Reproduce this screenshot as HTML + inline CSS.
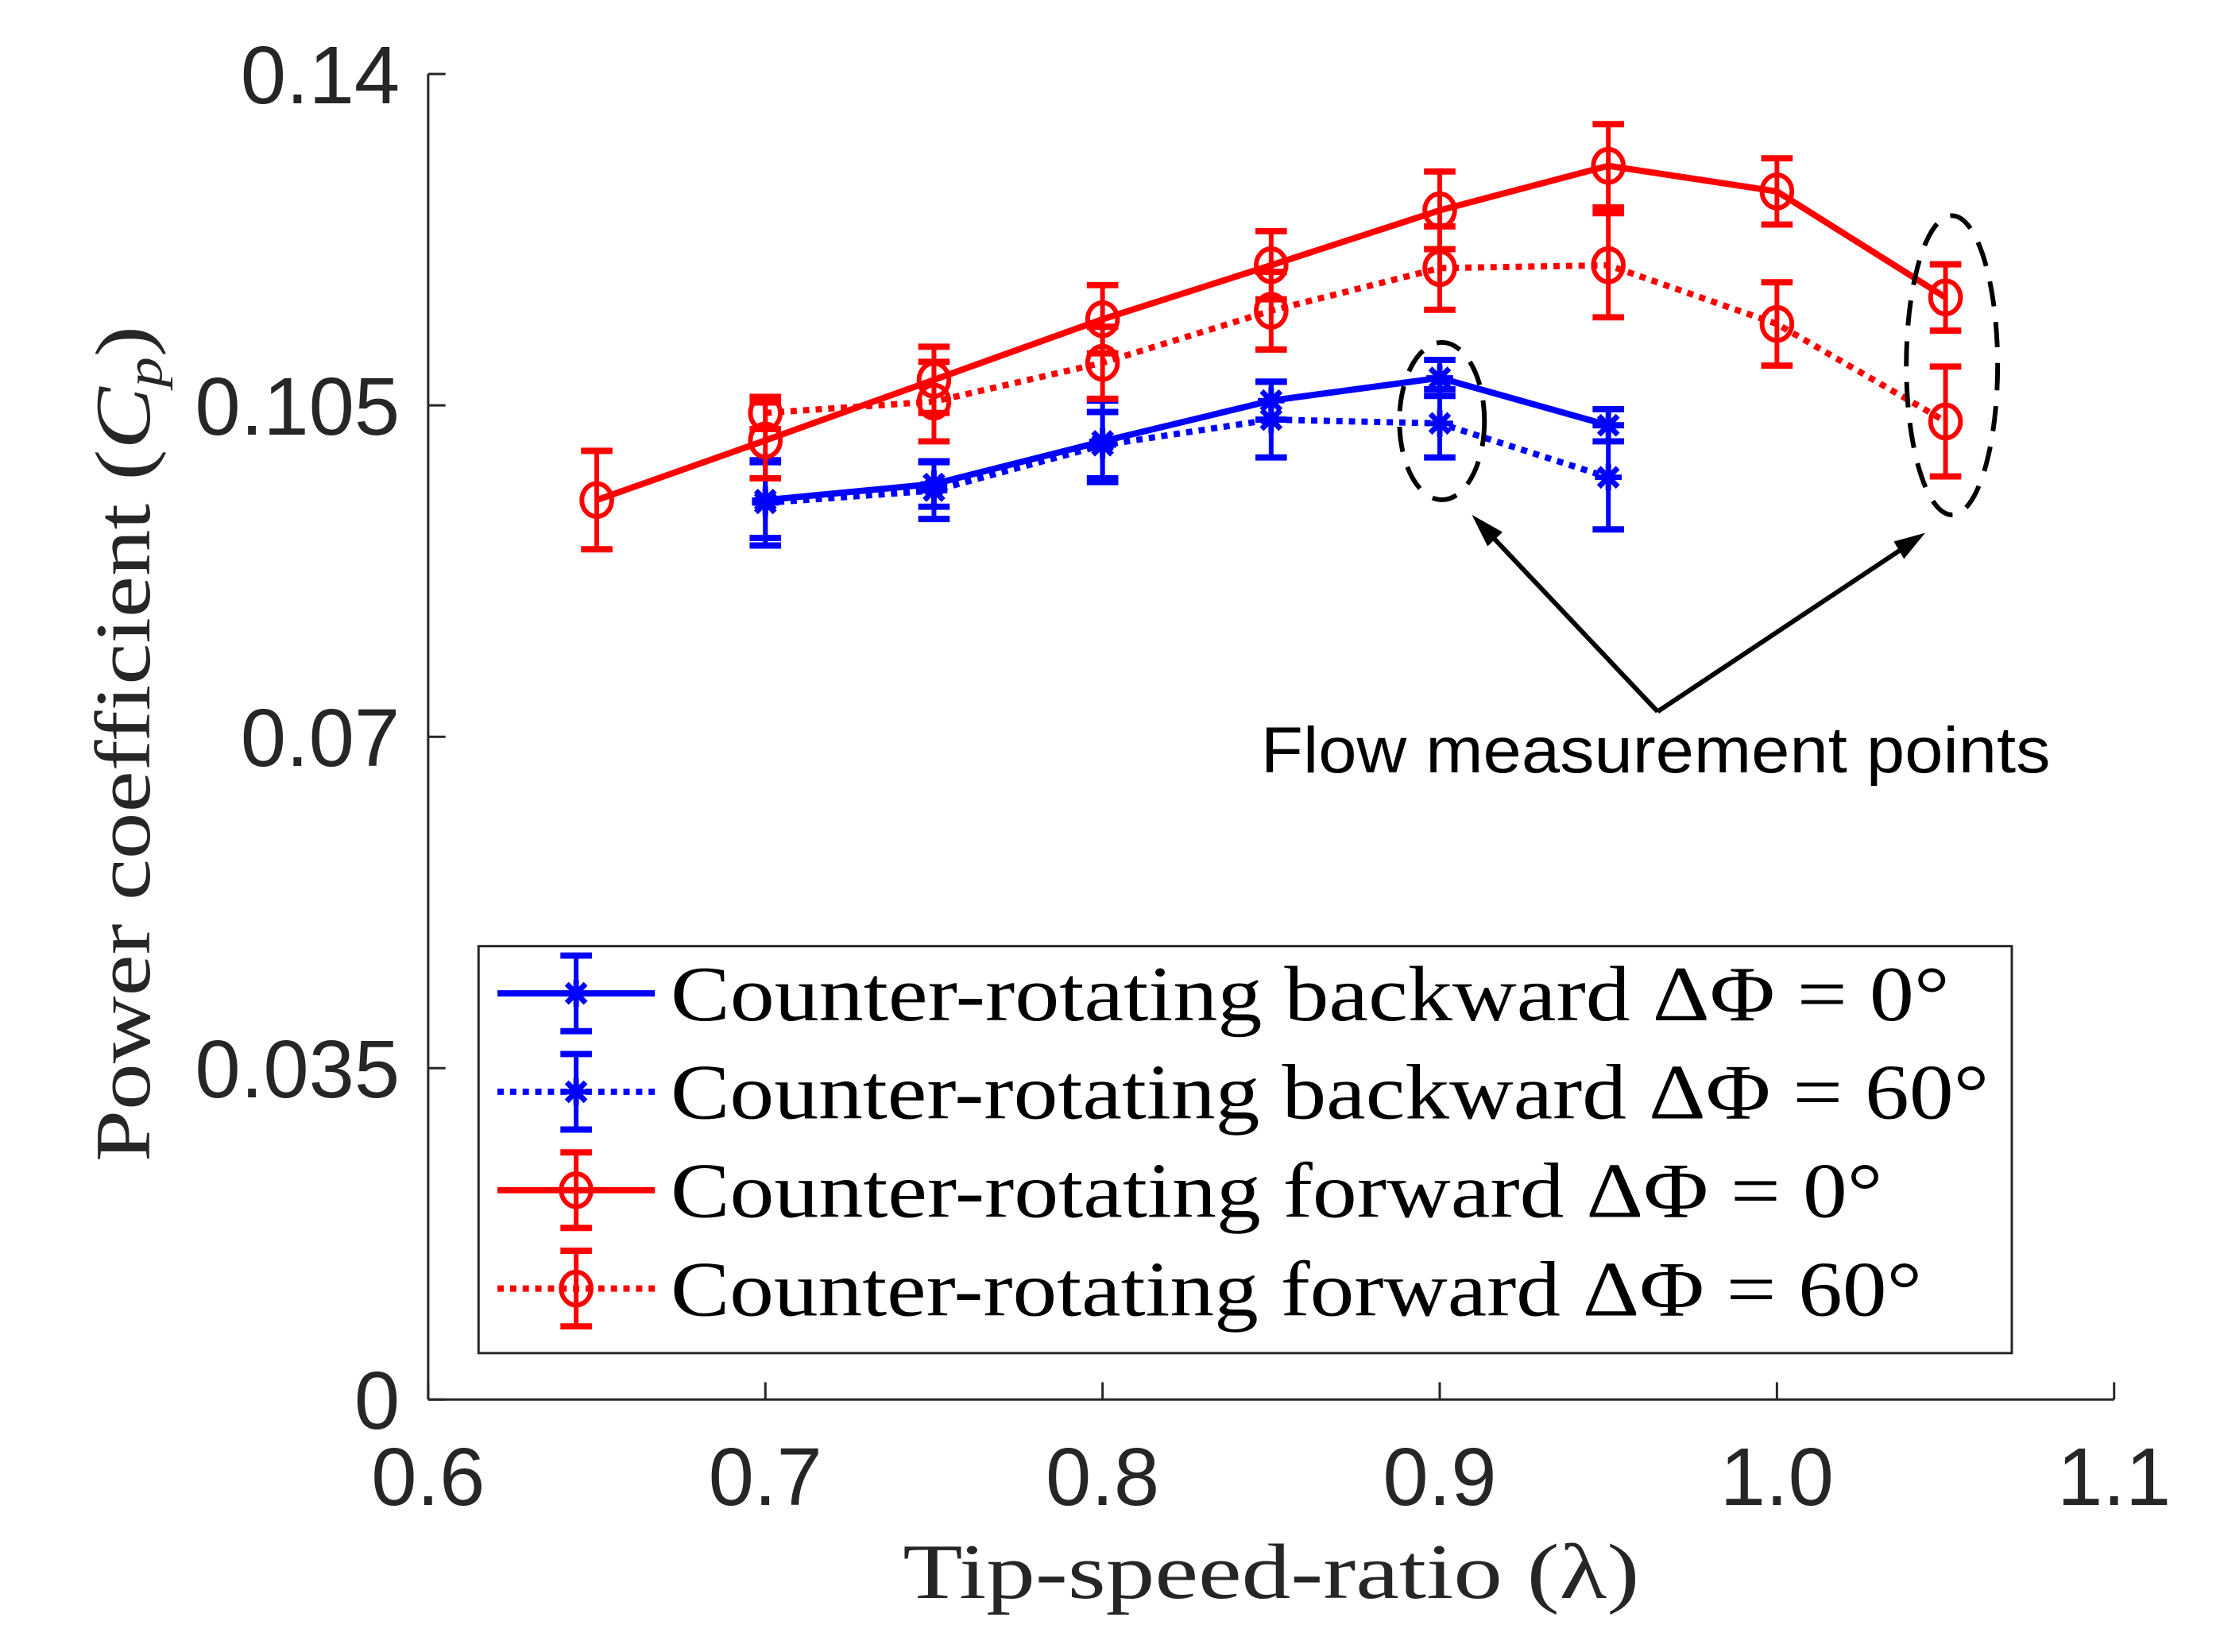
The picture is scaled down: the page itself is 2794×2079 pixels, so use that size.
<!DOCTYPE html>
<html><head><meta charset="utf-8"><style>
html,body{margin:0;padding:0;background:#fff;}
svg{display:block;}
</style></head><body>
<svg id="chart" xmlns="http://www.w3.org/2000/svg" width="2794" height="2079" viewBox="0 0 2794 2079">
<rect width="2794" height="2079" fill="#fff"/>
<g transform="scale(0.9906)">
<g id="axes"></g>
<g id="marks"></g>
<g id="annot">
  <ellipse cx="1832" cy="535" rx="54" ry="100" fill="none" stroke="#000" stroke-width="6" stroke-dasharray="32 20"/>
  <ellipse cx="2480" cy="464" rx="58" ry="190" fill="none" stroke="#000" stroke-width="6" stroke-dasharray="32 20"/>
  <line x1="2106" y1="904" x2="1882" y2="667" stroke="#000" stroke-width="6"/>
  <polygon points="1870,654 1909,676 1890,694" fill="#000"/>
  <line x1="2106" y1="904" x2="2432" y2="687" stroke="#000" stroke-width="6"/>
  <polygon points="2446,677 2419,710 2406,688" fill="#000"/>
  <text x="1602" y="981" font-family="Liberation Sans, sans-serif" font-size="82" textLength="1003" lengthAdjust="spacingAndGlyphs">Flow measurement points</text>
</g>
<g id="legend"></g>
</g>
</svg>
<script>
const xTicks=[0.6,0.7,0.8,0.9,1.0,1.1];
const xTickLabels=["0.6","0.7","0.8","0.9","1.0","1.1"];
const yTicks=[0,0.035,0.07,0.105,0.14];
const yTickLabels=["0","0.035","0.07","0.105","0.14"];
const xBwd=[0.7,0.75,0.8,0.85,0.9,0.95];
const xFwd=[0.65,0.7,0.75,0.8,0.85,0.9,0.95,1.0,1.05];
const xFwd60=[0.7,0.75,0.8,0.85,0.9,0.95,1.0,1.05];
const bwd0=[0.0950,0.0967,0.1012,0.1055,0.1079,0.1029];
const bwd0Err=[0.0040,0.0024,0.0043,0.0020,0.0019,0.0017];
const bwd60=[0.0947,0.0960,0.1008,0.1035,0.1031,0.0974];
const bwd60Err=[0.0045,0.0030,0.0035,0.0040,0.0036,0.0055];
const fwd0=[0.0950,0.1013,0.1077,0.1141,0.1198,0.1256,0.1303,0.1276,0.1164];
const fwd0Err=[0.0052,0.0040,0.0035,0.0036,0.0036,0.0041,0.0044,0.0035,0.0035];
const fwd60=[0.1042,0.1054,0.1095,0.1150,0.1195,0.1198,0.1136,0.1033];
const fwd60Err=[0.0017,0.0042,0.0038,0.0041,0.0044,0.0055,0.0044,0.0058];
const legendLabels=["Counter-rotating backward ΔΦ = 0°","Counter-rotating backward ΔΦ = 60°","Counter-rotating forward ΔΦ = 0°","Counter-rotating forward ΔΦ = 60°"];

const L=544,R=2686,T=94,B=1778;
const xs=v=>L+(v-0.6)/(1.1-0.6)*(R-L);
const ys=v=>B-(v/0.14)*(B-T);
const NS="http://www.w3.org/2000/svg";
function mk(tag,parent,attrs){const e=document.createElementNS(NS,tag);for(const k in attrs)e.setAttribute(k,attrs[k]);parent.appendChild(e);return e;}

const ax=document.getElementById('axes');
let e=mk('line',ax,{x1:L,y1:B,x2:R,y2:B,stroke:'#262626','stroke-width':3});


e=mk('line',ax,{x1:L,y1:B,x2:L,y2:T,stroke:'#262626','stroke-width':3});


xTicks.forEach((t,i)=>{
  const x=xs(t);
  let tk=mk('line',ax,{x1:x,y1:B,x2:x,y2:B-22,stroke:'#262626','stroke-width':3});
  
  
  let tx=mk('text',ax,{x:x,y:1912,'text-anchor':'middle','font-family':'Liberation Sans, sans-serif','font-size':104,fill:'#262626'});
  tx.textContent=xTickLabels[i];
  
  
});
yTicks.forEach((t,i)=>{
  const y=ys(t);
  let tk=mk('line',ax,{x1:L,y1:y,x2:L+22,y2:y,stroke:'#262626','stroke-width':3});
  
  
  let tx=mk('text',ax,{x:508,y:y+37,'text-anchor':'end','font-family':'Liberation Sans, sans-serif','font-size':104,fill:'#262626'});
  tx.textContent=yTickLabels[i];
  
  
});
let xl=mk('text',ax,{x:1615,y:2030,'text-anchor':'middle','font-family':'Liberation Serif, serif','font-size':100,fill:'#262626',textLength:936,lengthAdjust:'spacingAndGlyphs'});
xl.textContent='Tip-speed-ratio (λ)';


let yl=mk('text',ax,{x:0,y:0,'text-anchor':'middle','font-family':'Liberation Serif, serif','font-size':100,fill:'#262626',textLength:1062,lengthAdjust:'spacingAndGlyphs',transform:'translate(190,945) rotate(-90)'});
yl.innerHTML='Power coefficient (<tspan font-style="italic">C</tspan><tspan font-style="italic" font-size="65" dy="15">p</tspan><tspan dy="-15">)</tspan>';



const marks=document.getElementById('marks');
function star(g,x,y,c){
  const r=17;
  for(let a=0;a<4;a++){const th=a*Math.PI/4;
    mk('line',g,{x1:x-r*Math.cos(th),y1:y-r*Math.sin(th),x2:x+r*Math.cos(th),y2:y+r*Math.sin(th),stroke:c,'stroke-width':7});}
}
function circ(g,x,y,c){mk('ellipse',g,{cx:x,cy:y,rx:19,ry:21,fill:'none',stroke:c,'stroke-width':6});}
function series(name,xv,yv,ev,color,dash,marker){
  const g=mk('g',marks,{});
  
  
  const pts=xv.map((x,i)=>xs(x)+','+ys(yv[i])).join(' ');
  const pl=mk('polyline',g,{points:pts,fill:'none',stroke:color,'stroke-width':8,'stroke-dasharray':dash?'8 8':'none','stroke-linejoin':'round'});
  
  
  xv.forEach((x,i)=>{
    const px=xs(x),y1=ys(yv[i]+ev[i]),y2=ys(yv[i]-ev[i]),py=ys(yv[i]);
    const eg=mk('g',g,{});
    
    
    mk('line',eg,{x1:px,y1:y1,x2:px,y2:y2,stroke:color,'stroke-width':6});
    mk('line',eg,{x1:px-20,y1:y1,x2:px+20,y2:y1,stroke:color,'stroke-width':8});
    mk('line',eg,{x1:px-20,y1:y2,x2:px+20,y2:y2,stroke:color,'stroke-width':8});
    if(marker==='star')star(eg,px,py,color);else circ(eg,px,py,color);
  });
}
series('series-backward-0',xBwd,bwd0,bwd0Err,'#0000ff',false,'star');
series('series-backward-60',xBwd,bwd60,bwd60Err,'#0000ff',true,'star');
series('series-forward-0',xFwd,fwd0,fwd0Err,'#ff0000',false,'circle');
series('series-forward-60',xFwd60,fwd60,fwd60Err,'#ff0000',true,'circle');

const lg=document.getElementById('legend');
let box=mk('rect',lg,{x:608,y:1202,width:1948,height:517,fill:'#fff',stroke:'#262626','stroke-width':3});


const lc=['#0000ff','#0000ff','#ff0000','#ff0000'],ld=[false,true,false,true],lm=['star','star','circle','circle'];
const rows=[1262,1387,1512,1637];
legendLabels.forEach((lab,i)=>{
  const g=mk('g',lg,{});
  
  
  const y=rows[i];
  mk('line',g,{x1:632,y1:y,x2:832,y2:y,stroke:lc[i],'stroke-width':8,'stroke-dasharray':ld[i]?'8 8':'none'});
  mk('line',g,{x1:732,y1:y-48,x2:732,y2:y+48,stroke:lc[i],'stroke-width':6});
  mk('line',g,{x1:712,y1:y-48,x2:752,y2:y-48,stroke:lc[i],'stroke-width':8});
  mk('line',g,{x1:712,y1:y+48,x2:752,y2:y+48,stroke:lc[i],'stroke-width':8});
  if(lm[i]==='star')star(g,732,y,lc[i]);else circ(g,732,y,lc[i]);
  const widths=[1625,1675,1540,1590];
  const t=mk('text',g,{x:852,y:y+34,'font-family':'Liberation Serif, serif','font-size':100,fill:'#000',textLength:widths[i],lengthAdjust:'spacingAndGlyphs'});
  t.textContent=lab;
});
</script>
</body></html>
